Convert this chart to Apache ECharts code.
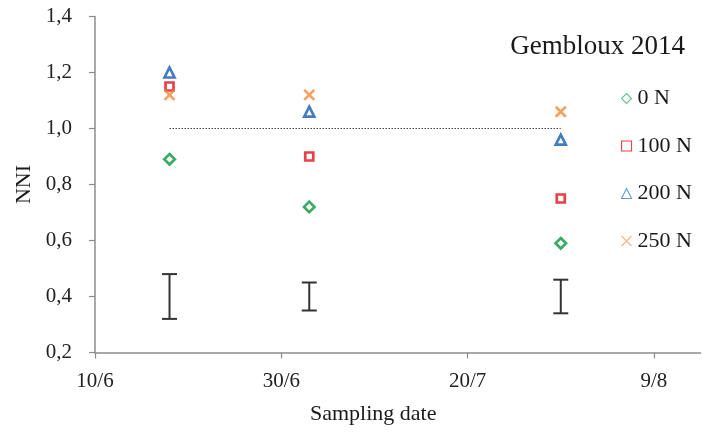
<!DOCTYPE html>
<html>
<head>
<meta charset="utf-8">
<script src="https://cdn.jsdelivr.net/npm/echarts@6/dist/echarts.min.js"></script>
<style>
  html, body { margin: 0; padding: 0; background: #ffffff; }
  #chart { width: 702px; height: 433px; }
</style>
</head>
<body>
<div id="chart"></div>
<script>
// Sampling dates (Gembloux, 2014) and nitrogen nutrition index per N rate
const sampleDates = ['2014-06-18', '2014-07-03', '2014-07-30'];
const seriesNames = ['0 N', '100 N', '200 N', '250 N'];
const nni0 = [0.89, 0.72, 0.59];
const nni100 = [1.15, 0.90, 0.75];
const nni200 = [1.20, 1.06, 0.96];
const nni250 = [1.12, 1.12, 1.06];
// Least significant difference bars (lower / upper end) per date
const lsdLow = [0.32, 0.35, 0.34];
const lsdHigh = [0.48, 0.45, 0.46];
// Optimal nutrition reference
const refLevel = 1.0;
// Axis ticks
const xTickDates = ['2014-06-10', '2014-06-30', '2014-07-20', '2014-08-09'];
const yTicks = [0.2, 0.4, 0.6, 0.8, 1.0, 1.2, 1.4];

const DAY = 86400000;
const origin = Date.UTC(2014, 5, 10);
function dayOf(s) {
  const p = s.split('-').map(Number);
  return Math.round((Date.UTC(p[0], p[1] - 1, p[2]) - origin) / DAY);
}
function labelOf(d) {
  const t = new Date(origin + d * DAY);
  return t.getUTCDate() + '/' + (t.getUTCMonth() + 1);
}
const xDays = sampleDates.map(dayOf);
const xTicks = xTickDates.map(dayOf);
const pairs = vals => xDays.map((x, i) => [x, vals[i]]);

const serif = 'Liberation Serif';
const axisGrey = '#8c8c8c';

const markerStyles = [
  { symbol: 'diamond', size: 10.5, color: '#08963f', legendColor: '#3fb36a' },
  { symbol: 'rect', size: 8, color: '#e0101a', legendColor: '#e3101b' },
  { symbol: 'triangle', size: 10, color: '#165bb0', legendColor: '#3f80cc' },
  { symbol: 'path://M0,0L10,10M10,0L0,10', size: 10, color: '#f2883a', legendColor: '#f5a068' }
];
const values = [nni0, nni100, nni200, nni250];

const scatterSeries = seriesNames.map((name, i) => ({
  name: name,
  type: 'scatter',
  data: pairs(values[i]),
  symbol: markerStyles[i].symbol,
  symbolSize: markerStyles[i].size,
  z: 5 + i,
  itemStyle: {
    color: 'rgba(255,255,255,0)',
    borderColor: markerStyles[i].color,
    borderWidth: 2.7
  },
  emphasis: { disabled: true }
}));

const legendItems = seriesNames.map((name, i) => ({
  name: name,
  icon: markerStyles[i].symbol,
  itemStyle: {
    color: 'rgba(255,255,255,0)',
    borderColor: markerStyles[i].legendColor,
    borderWidth: 1.1
  }
}));

const chart = echarts.init(document.getElementById('chart'), null, { renderer: 'canvas' });
chart.setOption({
  animation: false,
  backgroundColor: '#ffffff',
  title: [
    {
      text: 'Gembloux 2014',
      right: 17, top: 33, padding: 0,
      textStyle: { fontFamily: serif, fontSize: 27, fontWeight: 'normal', color: '#1a1a1a' }
    },
    {
      text: 'Sampling date',
      left: 310, top: 403, padding: 0,
      textStyle: { fontFamily: serif, fontSize: 22, fontWeight: 'normal', color: '#1a1a1a' }
    }
  ],
  legend: {
    orient: 'vertical',
    left: 621, top: 87,
    itemWidth: 10, itemHeight: 10,
    itemGap: 24.5,
    padding: 0,
    selectedMode: false,
    data: legendItems,
    textStyle: { fontFamily: serif, fontSize: 22, lineHeight: 23, color: '#1a1a1a', padding: [0, 0, 0, 1] }
  },
  grid: { left: 95, top: 16.5, width: 605.5, height: 336, containLabel: false },
  xAxis: {
    type: 'value',
    min: 0, max: 65,
    splitLine: { show: false },
    axisLine: { lineStyle: { color: axisGrey, width: 1.5 } },
    axisTick: { show: true, inside: false, length: 6, customValues: xTicks, lineStyle: { color: axisGrey, width: 1.2 } },
    axisLabel: {
      customValues: xTicks,
      margin: 18,
      formatter: v => labelOf(v),
      fontFamily: serif, fontSize: 21, color: '#222'
    }
  },
  yAxis: {
    type: 'value',
    min: yTicks[0], max: yTicks[yTicks.length - 1], interval: 0.2,
    name: 'NNI',
    nameLocation: 'middle',
    nameGap: 58,
    nameRotate: 90,
    nameTextStyle: { fontFamily: serif, fontSize: 22, color: '#1a1a1a' },
    splitLine: { show: false },
    axisLine: { show: true, lineStyle: { color: axisGrey, width: 1.5 } },
    axisTick: { show: true, inside: false, length: 6, lineStyle: { color: axisGrey, width: 1.2 } },
    axisLabel: {
      margin: 23,
      formatter: v => v.toFixed(1).replace('.', ','),
      fontFamily: serif, fontSize: 21, color: '#222'
    }
  },
  series: [
    {
      name: 'ref',
      type: 'line',
      data: [[xDays[0], refLevel], [xDays[xDays.length - 1], refLevel]],
      symbol: 'none',
      z: 2,
      lineStyle: { color: '#444', width: 1, type: [1.5, 1.5] },
      emphasis: { disabled: true }
    },
    {
      name: 'lsd',
      type: 'custom',
      data: xDays.map((x, i) => [x, lsdLow[i], lsdHigh[i]]),
      encode: { x: 0, y: [1, 2] },
      z: 3,
      renderItem: function (params, api) {
        const lo = api.coord([api.value(0), api.value(1)]);
        const hi = api.coord([api.value(0), api.value(2)]);
        const w = 7.5;
        const st = { stroke: '#333', lineWidth: 2 };
        return {
          type: 'group',
          children: [
            { type: 'line', shape: { x1: lo[0], y1: lo[1], x2: hi[0], y2: hi[1] }, style: st },
            { type: 'line', shape: { x1: lo[0] - w, y1: lo[1], x2: lo[0] + w, y2: lo[1] }, style: st },
            { type: 'line', shape: { x1: hi[0] - w, y1: hi[1], x2: hi[0] + w, y2: hi[1] }, style: st }
          ]
        };
      }
    }
  ].concat(scatterSeries)
});
</script>
</body>
</html>
